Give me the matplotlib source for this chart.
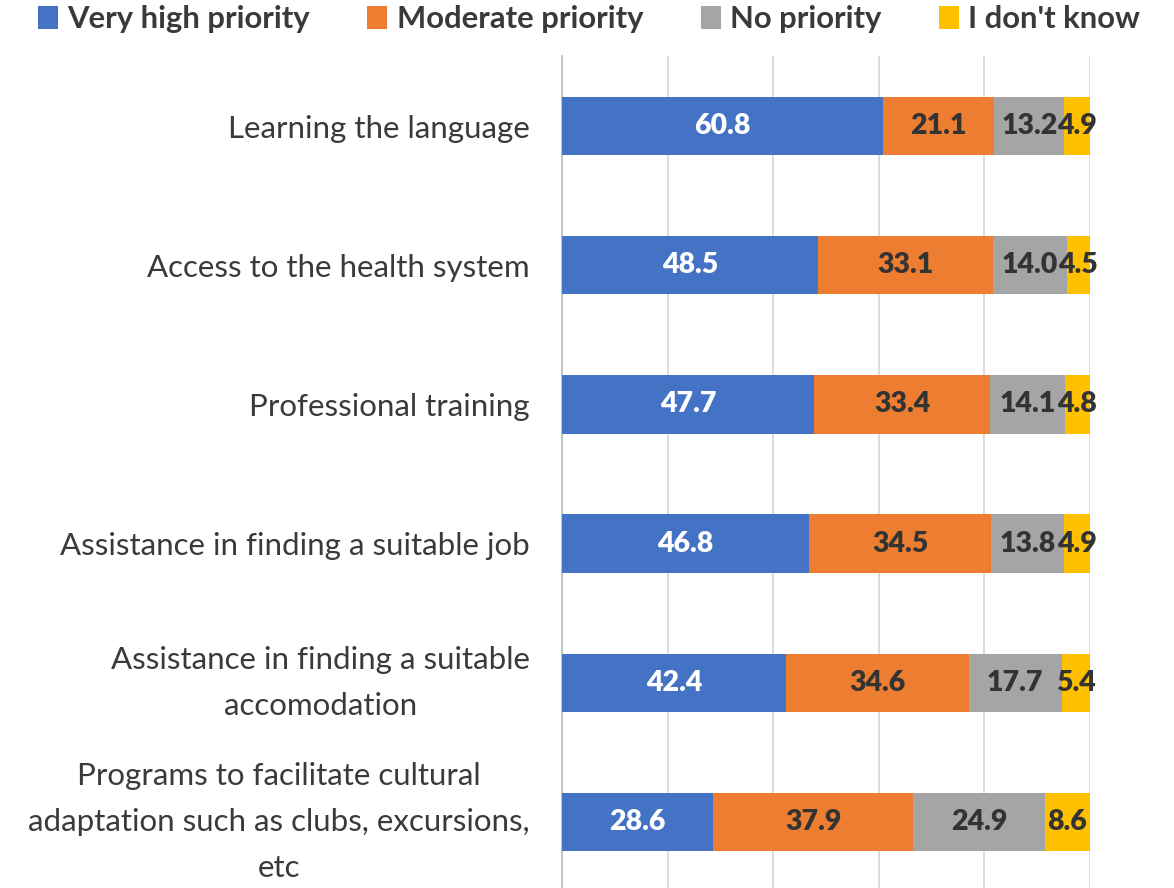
import matplotlib
matplotlib.use("Agg")
import matplotlib.pyplot as plt
import numpy as np

categories = [
    "Learning the language",
    "Access to the health system",
    "Professional training",
    "Assistance in finding a suitable job",
    "Assistance in finding a suitable\naccomodation",
    "Programs to facilitate cultural\nadaptation such as clubs, excursions,\netc",
]
series_names = ["Very high priority", "Moderate priority", "No priority", "I don't know"]
very_high = [60.8, 48.5, 47.7, 46.8, 42.4, 28.6]
moderate = [21.1, 33.1, 33.4, 34.5, 34.6, 37.9]
no_priority = [13.2, 14.0, 14.1, 13.8, 17.7, 24.9]
dont_know = [4.9, 4.5, 4.8, 4.9, 5.4, 8.6]

colors = ["#4472C4", "#ED7D31", "#A5A5A5", "#FFC000"]
label_colors = ["white", "#333333", "#333333", "#333333"]
text_color = "#3A3A3A"

plt.rcParams["font.family"] = ["Lato", "DejaVu Sans"]

fig = plt.figure(figsize=(11.74, 8.88), dpi=100)
ax = fig.add_axes([562 / 1174, 0.0, (1090 - 562) / 1174, 1 - 56.4 / 888])

y = np.arange(len(categories))
left = np.zeros(len(categories))
handles = []
for vals, name, col, lcol in zip([very_high, moderate, no_priority, dont_know],
                                  series_names, colors, label_colors):
    bars = ax.barh(y, vals, left=left, height=0.42, color=col, label=name, zorder=3)
    handles.append(bars)
    ax.bar_label(bars, labels=[f"{v:.1f}" for v in vals], label_type="center",
                 color=lcol, fontsize=20.5, fontweight="heavy", zorder=4)
    left += np.array(vals)

ax.set_xlim(0, 100)
ax.set_ylim(5.474, -0.5)
ax.set_xticks(np.arange(0, 101, 20))
ax.tick_params(axis="x", length=0, labelbottom=False)
ax.grid(axis="x", color="#D9D9D9", linewidth=1.3, zorder=0)
ax.set_yticks(y)
ax.set_yticklabels(categories, fontsize=22.5, color=text_color, ha="right",
                   multialignment="center", linespacing=1.8)
for lab in ax.get_yticklabels():
    if "\n" in lab.get_text():
        lab.set_verticalalignment("center")
ax.tick_params(axis="y", length=0, pad=23)
for s in ["top", "right", "bottom"]:
    ax.spines[s].set_visible(False)
ax.spines["left"].set_color("#BFBFBF")
ax.spines["left"].set_linewidth(1.3)

leg = fig.legend(handles=handles, loc="center left",
                 bbox_to_anchor=(38 / 1174, 1 - 19 / 888),
                 ncol=4, frameon=False, handlelength=0.65, handleheight=0.77,
                 handletextpad=0.3, columnspacing=1.85, borderpad=0,
                 borderaxespad=0, prop={"size": 22.3, "weight": "bold"})
for t in leg.get_texts():
    t.set_color(text_color)

fig.savefig("out.png", dpi=100)
